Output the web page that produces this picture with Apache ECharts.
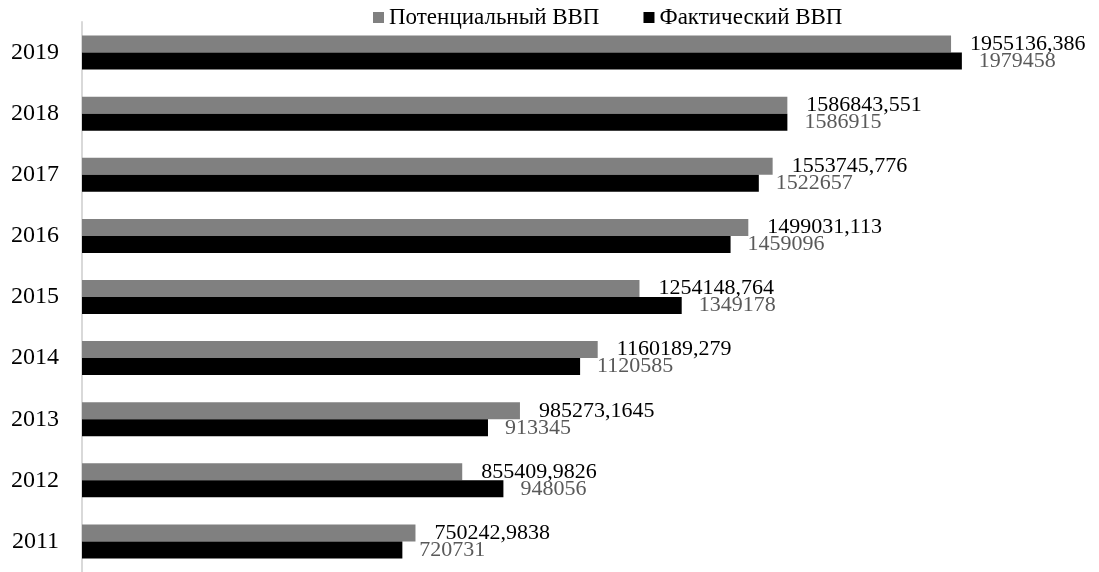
<!DOCTYPE html>
<html>
<head>
<meta charset="utf-8">
<script src="https://cdn.jsdelivr.net/npm/echarts@6/dist/echarts.min.js"></script>
<style>
  html, body { margin: 0; padding: 0; background: #fff; }
  #chart { width: 1099px; height: 572px; }
</style>
</head>
<body>
<div id="chart"></div>
<script>
// years, bottom to top
var years = ['2011', '2012', '2013', '2014', '2015', '2016', '2017', '2018', '2019'];
// potential GDP
var potential = [750242.9838, 855409.9826, 985273.1645, 1160189.279, 1254148.764, 1499031.113, 1553745.776, 1586843.551, 1955136.386];
// actual GDP
var actual = [720731, 948056, 913345, 1120585, 1349178, 1459096, 1522657, 1586915, 1979458];

var font = '"Liberation Serif", "Times New Roman", serif';

// values shown with a decimal comma
function fmt(p) {
    return String(p.value).replace('.', ',');
}

var myChart = echarts.init(document.getElementById('chart'));

var option = {
    animation: false,
    textStyle: { fontFamily: font },
    legend: {
        left: 368,
        top: 1,
        icon: 'rect',
        itemWidth: 11,
        itemHeight: 11,
        itemGap: 44,
        textStyle: { fontFamily: font, fontSize: 23, color: '#000' }
    },
    grid: { left: 82, top: 22, width: 889, height: 556 },
    xAxis: {
        type: 'value',
        min: 0,
        max: 2000000,
        show: false
    },
    yAxis: {
        type: 'category',
        data: years,
        axisLine: { lineStyle: { color: '#d9d9d9', width: 2 } },
        axisTick: { show: false },
        axisLabel: { fontFamily: font, fontSize: 24, color: '#000', margin: 23 }
    },
    series: [
        {
            name: 'Потенциальный ВВП',
            type: 'bar',
            data: potential,
            barWidth: 17,
            barGap: '0%',
            itemStyle: { color: '#808080' },
            label: {
                show: true,
                position: 'right',
                distance: 19,
                formatter: fmt,
                fontFamily: font,
                fontSize: 22,
                color: '#000'
            }
        },
        {
            name: 'Фактический ВВП',
            type: 'bar',
            data: actual,
            barWidth: 17,
            barGap: '0%',
            itemStyle: { color: '#000' },
            label: {
                show: true,
                position: 'right',
                distance: 17,
                formatter: fmt,
                fontFamily: font,
                fontSize: 22,
                color: '#595959'
            }
        }
    ]
};

myChart.setOption(option);
</script>
</body>
</html>
